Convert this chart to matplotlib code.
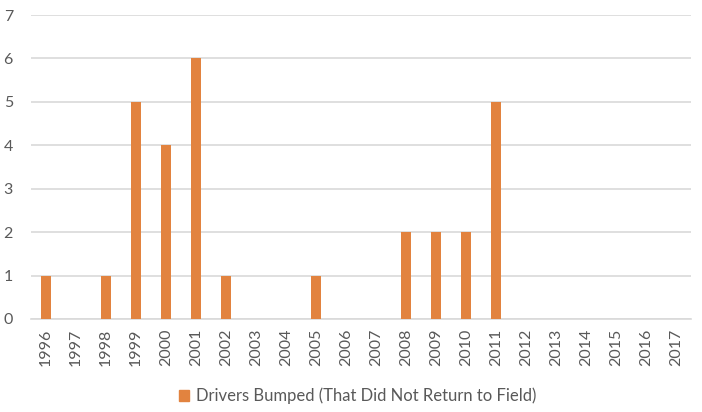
import matplotlib
matplotlib.use("Agg")
import matplotlib.pyplot as plt
from matplotlib.patches import Patch

years = [str(y) for y in range(1996, 2018)]
bumped = [1, 0, 1, 5, 4, 6, 1, 0, 0, 1, 0, 0, 2, 2, 2, 5, 0, 0, 0, 0, 0, 0]
series_name = "Drivers Bumped (That Did Not Return to Field)"

plt.rcParams['font.family'] = ['Lato', 'DejaVu Sans']

W, H = 702, 412
fig = plt.figure(figsize=(W / 100, H / 100), dpi=100)
ax = fig.add_axes([31 / W, 93 / H, 660 / W, 304 / H])

orange = '#E2833F'
x = list(range(len(years)))
ax.bar(x, bumped, width=0.34, color=orange, zorder=3)

ax.set_xlim(-0.5, len(years) - 0.5)
ax.set_ylim(0, 7)
ax.set_yticks(range(0, 8))
ax.yaxis.grid(True, color='#D9D9D9', linewidth=1.2, zorder=0)
ax.set_xticks(x)
ax.set_xticklabels(years, rotation=90)
ax.tick_params(axis='both', length=0, labelsize=11.5, labelcolor='#595959')
ax.tick_params(axis='y', pad=13)
ax.tick_params(axis='x', pad=7)
for s in ['top', 'right', 'left']:
    ax.spines[s].set_visible(False)
ax.spines['bottom'].set_color('#D9D9D9')
ax.spines['bottom'].set_linewidth(1.2)

fig.legend(handles=[Patch(color=orange, label=series_name)],
           loc='center', bbox_to_anchor=(358 / W, 1 - 396 / H),
           frameon=False, fontsize=12, handlelength=0.6, handleheight=0.6,
           handletextpad=0.4, labelcolor='#595959')

fig.savefig('out.png', dpi=100)
